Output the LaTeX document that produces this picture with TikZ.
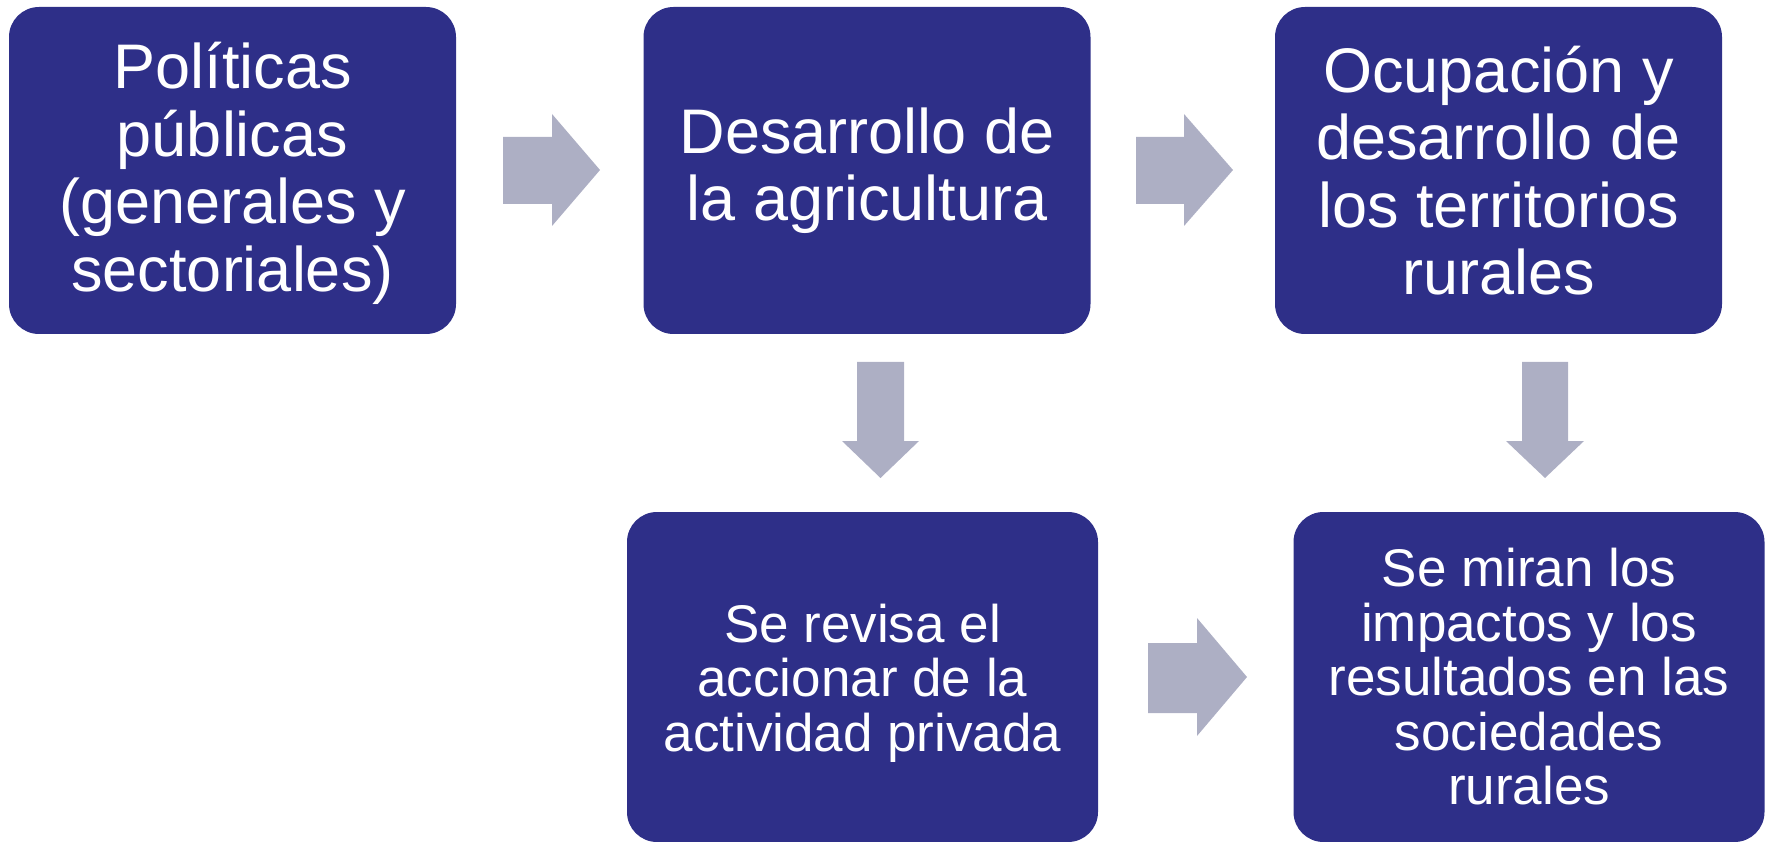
\documentclass[tikz,border=0pt]{standalone}
\usepackage{fontspec}
\setmainfont{Liberation Sans}
\definecolor{boxblue}{HTML}{2E2F88}
\definecolor{arrowgray}{HTML}{ADAFC4}
\begin{document}
\begin{tikzpicture}[x=1pt,y=-1pt,
  box/.style={fill=boxblue, rounded corners=30pt, text=white, align=center, inner sep=0pt},
  boxtext/.style={text=white, align=center, inner sep=0pt},
  toprow/.style={font=\fontsize{63}{67.5}\selectfont, minimum width=447pt, minimum height=327pt},
  botrow/.style={minimum width=471pt, minimum height=330pt},
  botfont/.style={font=\fontsize{53}{54.5}\selectfont},
  blockarrow/.style={fill=arrowgray}]
\useasboundingbox (0,0) rectangle (1765,842);
\node[box, toprow] (b1) at (232.5,170.5) {};
\node[boxtext, font=\fontsize{63}{67.5}\selectfont] (t1) at ([yshift=-3pt]b1.center) {Políticas\\públicas\\(generales y\\sectoriales)};
\node[box, toprow] (b2) at (867,170.5) {Desarrollo de\\la agricultura};
\node[box, toprow] (b3) at (1498.5,170.5) {Ocupación y\\desarrollo de\\los territorios\\rurales};
\node[box, botrow] (b4) at (862.5,677) {};
\node[boxtext, botfont] (t4) at ([yshift=-6pt]b4.center) {Se revisa el\\accionar de la\\actividad privada};
\node[box, botrow, botfont] (b5) at (1529,677) {Se miran los\\impactos y los\\resultados en las\\sociedades\\rurales};
% right arrows
\fill[blockarrow] (503,137) -- (552,137) -- (552,114) -- (600,170) -- (552,226) -- (552,204) -- (503,204) -- cycle;
\fill[blockarrow] (1136,137) -- (1184,137) -- (1184,114) -- (1233,170) -- (1184,226) -- (1184,204) -- (1136,204) -- cycle;
\fill[blockarrow] (1148,643) -- (1197,643) -- (1197,618) -- (1247,677) -- (1197,736) -- (1197,713) -- (1148,713) -- cycle;
% down arrows
\fill[blockarrow] (857,362) -- (904,362) -- (904,441) -- (919,441) -- (880.5,478) -- (842,441) -- (857,441) -- cycle;
\fill[blockarrow] (1522,362) -- (1568,362) -- (1568,441) -- (1584,441) -- (1545,478) -- (1506,441) -- (1522,441) -- cycle;
\end{tikzpicture}
\end{document}
